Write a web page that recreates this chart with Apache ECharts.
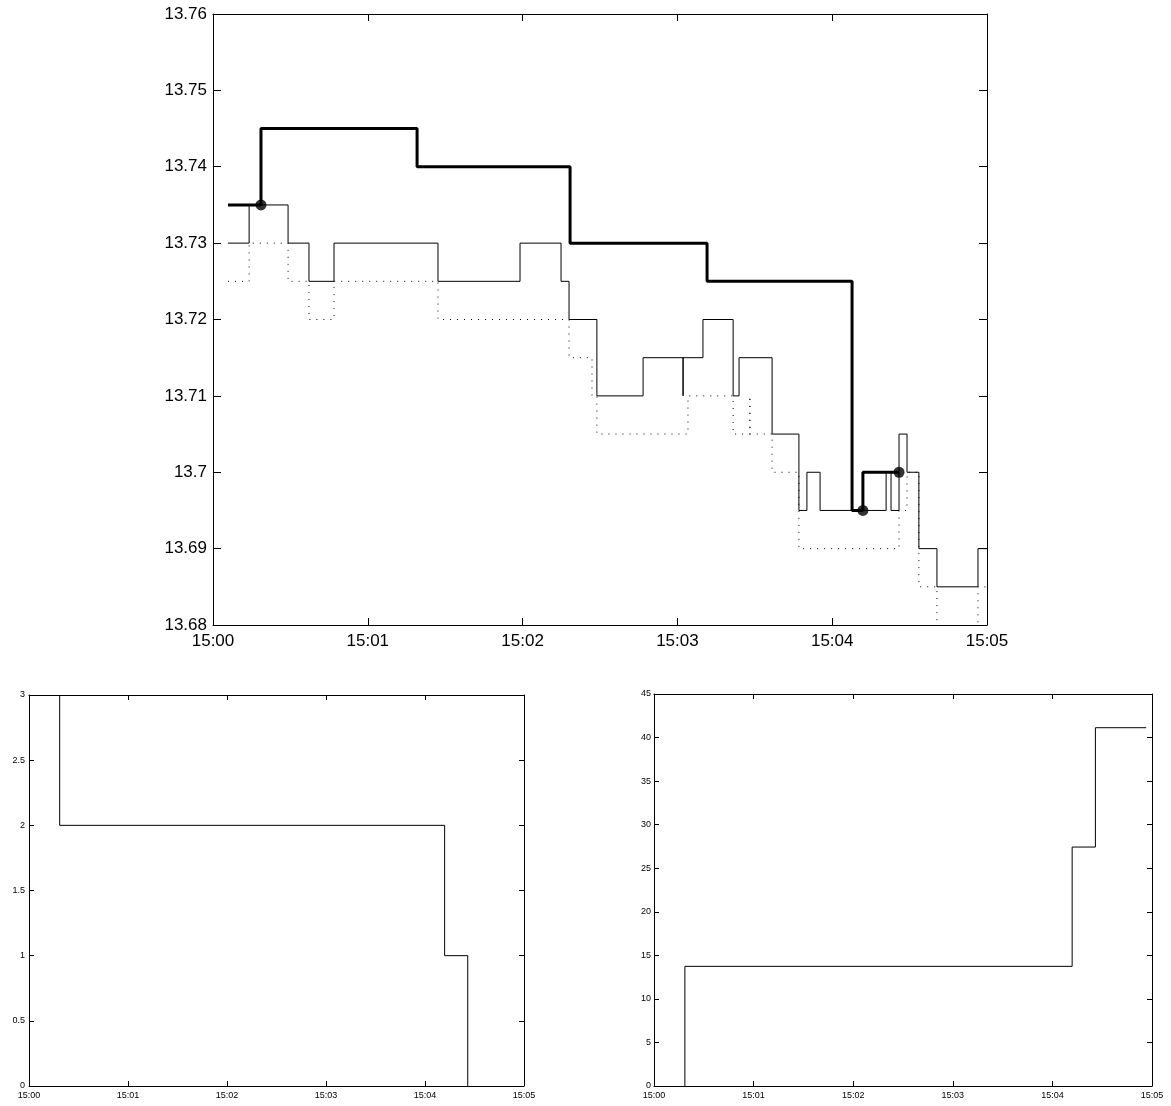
<!DOCTYPE html>
<html>
<head>
<meta charset="utf-8">
<script src="https://cdn.jsdelivr.net/npm/echarts@6/dist/echarts.min.js"></script>
<style>
html,body{margin:0;padding:0;background:#fff;}
#c{width:1171px;height:1106px;}
</style>
</head>
<body>
<div id="c"></div>
<script>
// ---- data (time in seconds after 15:00:00) ----
const xTickLabels = ['15:00','15:01','15:02','15:03','15:04','15:05'];

// ask (thin solid)
const askTimes  = [5.8, 14.0, 29.1, 37.2, 46.9, 87.2, 119.0, 134.9, 138.0, 148.8, 166.7, 182.2, 182.2, 189.9, 201.6, 203.9, 216.7, 227.1, 230.2, 235.3, 260.9, 262.8, 265.9, 269.0, 273.6, 280.6, 296.5, 300];
const askPrices = [13.73, 13.735, 13.73, 13.725, 13.73, 13.725, 13.73, 13.725, 13.72, 13.71, 13.715, 13.71, 13.715, 13.72, 13.71, 13.715, 13.705, 13.695, 13.70, 13.695, 13.70, 13.695, 13.705, 13.70, 13.69, 13.685, 13.69, 13.69];

// bid (dotted)
const bidTimes  = [5.8, 14.0, 29.1, 37.2, 46.9, 87.2, 138.0, 146.9, 148.8, 184.1, 201.6, 208.1, 208.1, 216.7, 227.1, 265.9, 269.0, 273.6, 280.6, 296.5, 300];
const bidPrices = [13.725, 13.73, 13.725, 13.72, 13.725, 13.72, 13.715, 13.71, 13.705, 13.71, 13.705, 13.71, 13.705, 13.70, 13.69, 13.695, 13.70, 13.685, 13.675, 13.685, 13.685];

// reference price (thick)
const refTimes  = [5.8, 18.6, 79.1, 138.4, 191.5, 247.7, 251.9, 265.9];
const refPrices = [13.735, 13.745, 13.74, 13.73, 13.725, 13.695, 13.70, 13.70];

// fills (dots)
const fillTimes  = [18.6, 251.9, 265.9];
const fillPrices = [13.735, 13.695, 13.70];

// remaining quantity (bottom left)
const remTimes = [18.6, 18.6, 251.9, 265.9];
const remQty   = [3, 2, 1, 0];

// cumulative cost (bottom right)
const cumTimes = [18.6, 18.6, 251.9, 265.9, 296.5];
const cumValue = [0, 13.735, 27.43, 41.13, 41.13];

function pairs(xs, ys){ return xs.map((x,i)=>[x, ys[i]]); }

const FONT = "'Liberation Sans', Arial, Helvetica, sans-serif";

function xAx(g, pos, showLabel, fs, margin, tickLen){
  return {
    gridIndex:g, type:'value', min:0, max:300, interval:60, position:pos,
    axisLine:{show:true, onZero:false, lineStyle:{color:'#000', width:1}},
    axisTick:{show:true, inside:true, length:tickLen, lineStyle:{color:'#000', width:1}},
    axisLabel:{show:showLabel, color:'#000', fontSize:fs, fontFamily:FONT, margin:margin,
      showMinLabel:true, showMaxLabel:true,
      formatter:function(v){ return xTickLabels[Math.round(v/60)]; }},
    splitLine:{show:false}
  };
}
function yAx(g, pos, showLabel, min, max, interval, fs, margin, tickLen){
  return {
    gridIndex:g, type:'value', min:min, max:max, interval:interval, position:pos,
    axisLine:{show:true, onZero:false, lineStyle:{color:'#000', width:1}},
    axisTick:{show:true, inside:true, length:tickLen, lineStyle:{color:'#000', width:1}},
    axisLabel:{show:showLabel, color:'#000', fontSize:fs, fontFamily:FONT, margin:margin,
      showMinLabel:true, showMaxLabel:true,
      formatter:function(v){ return String(+(+v).toFixed(3)); }},
    splitLine:{show:false}
  };
}

const chart = echarts.init(document.getElementById('c'), null, {renderer:'canvas'});
chart.setOption({
  animation:false,
  backgroundColor:'#fff',
  grid:[
    {left:213, top:14, width:774, height:611},
    {left:29, top:695, width:495, height:391},
    {left:654, top:694, width:498, height:392}
  ],
  xAxis:[
    xAx(0,'bottom',true,17,8,7), xAx(0,'top',false,17,8,7),
    xAx(1,'bottom',true,9,5,5), xAx(1,'top',false,9,5,5),
    xAx(2,'bottom',true,9,5,5), xAx(2,'top',false,9,5,5)
  ],
  yAxis:[
    yAx(0,'left',true,13.68,13.76,0.01,17,6,8), yAx(0,'right',false,13.68,13.76,0.01,17,6,8),
    yAx(1,'left',true,0,3,0.5,9,4,5), yAx(1,'right',false,0,3,0.5,9,4,5),
    yAx(2,'left',true,0,45,5,9,3,5), yAx(2,'right',false,0,45,5,9,3,5)
  ],
  series:[
    {type:'line', xAxisIndex:0, yAxisIndex:0, step:'end', showSymbol:false, symbol:'none',
     data:pairs(bidTimes,bidPrices), lineStyle:{color:'#000', width:1, type:[1,6]}, z:2},
    {type:'line', xAxisIndex:0, yAxisIndex:0, step:'end', showSymbol:false, symbol:'none',
     data:pairs(askTimes,askPrices), lineStyle:{color:'#000', width:1}, z:3},
    {type:'line', xAxisIndex:0, yAxisIndex:0, step:'end', showSymbol:false, symbol:'none',
     data:pairs(refTimes,refPrices), lineStyle:{color:'#000', width:3}, z:4},
    {type:'scatter', xAxisIndex:0, yAxisIndex:0, symbol:'circle', symbolSize:11,
     data:pairs(fillTimes,fillPrices), itemStyle:{color:'#000'}, z:5},
    {type:'line', xAxisIndex:2, yAxisIndex:2, step:'end', showSymbol:false, symbol:'none',
     data:pairs(remTimes,remQty), lineStyle:{color:'#000', width:1}},
    {type:'line', xAxisIndex:4, yAxisIndex:4, step:'end', showSymbol:false, symbol:'none',
     data:pairs(cumTimes,cumValue), lineStyle:{color:'#000', width:1}}
  ]
});
</script>
</body>
</html>
